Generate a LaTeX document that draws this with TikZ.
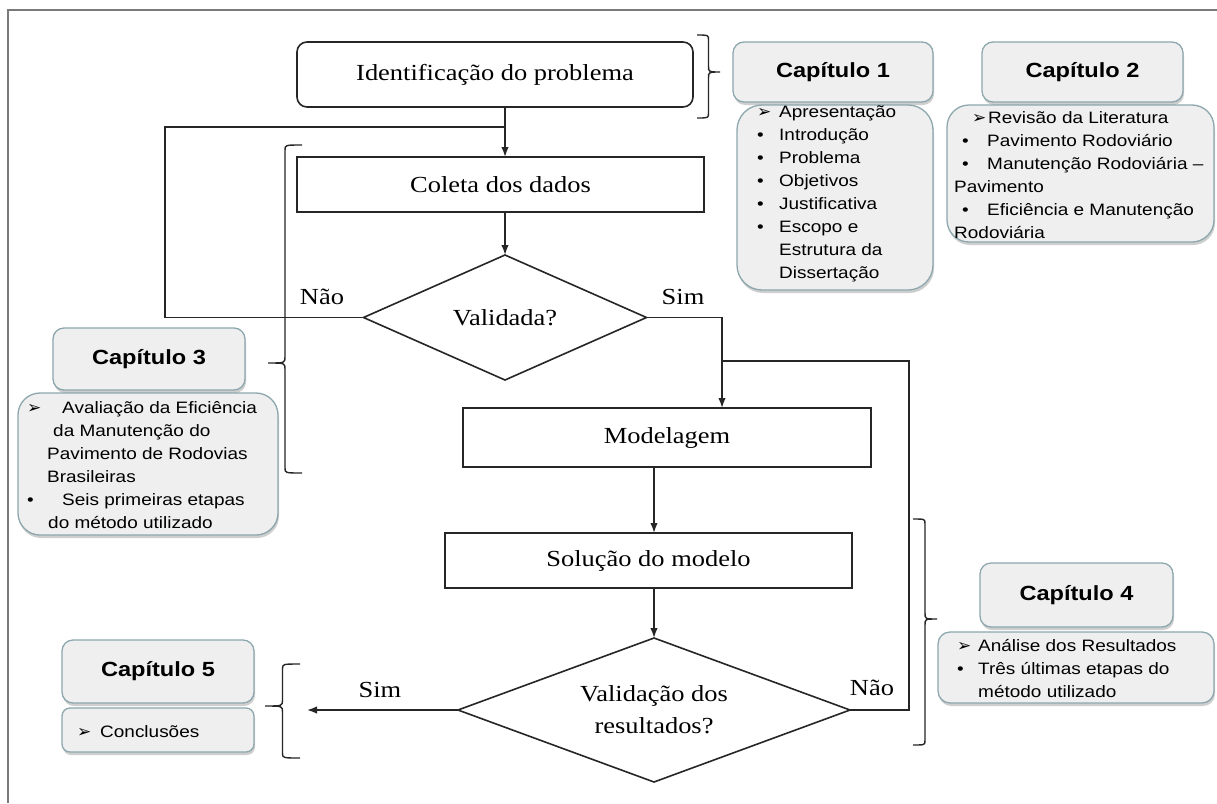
\documentclass[tikz,border=0pt]{standalone}
\usepackage{fontspec}
\setmainfont{Liberation Serif}[FakeStretch=1.15]
\newfontfamily\chapfont{Liberation Sans}[FakeStretch=1.15]
\newfontfamily\symfont{DejaVu Sans}
\usetikzlibrary{shapes.geometric,arrows.meta,shadows}

\definecolor{flowline}{HTML}{262626}
\definecolor{chapedge}{HTML}{8CA7AD}
\definecolor{chapfill}{HTML}{EFEFEF}
\definecolor{framegray}{HTML}{7A7A7A}

\newcommand{\flowfont}{\fontsize{23}{32}\selectfont}
\newcommand{\chaptitlefont}{\chapfont\bfseries\fontsize{20.5}{24}\selectfont}
\newcommand{\chaplistfont}{\chapfont\fontsize{16.5}{23}\selectfont}
\newcommand{\arrowmark}{{\symfont\fontsize{17}{17}\selectfont ➢}}
\newcommand{\dotmark}{•}
% list entry: #1 offset of the mark, #2 offset of the text, #3 the mark
\newcommand{\entry}[3]{\makebox[#2pt][l]{\hspace*{#1pt}#3}}
% curly brace: #1 x of the hooks, #2 side (+1 right, -1 left), #3 top y, #4 tip y, #5 bottom y, #6 depth
\newcommand{\curlybrace}[6]{%
  \draw[bracestroke] (#1,#3) .. controls ({#1+(#2)*(#6)},#3) .. ({#1+(#2)*(#6)},{#3+5})
    -- ({#1+(#2)*(#6)},{#4-6}) .. controls ({#1+(#2)*(#6)},#4) .. ({#1+2*(#2)*(#6)},#4)
    .. controls ({#1+(#2)*(#6)},#4) .. ({#1+(#2)*(#6)},{#4+6})
    -- ({#1+(#2)*(#6)},{#5-5}) .. controls ({#1+(#2)*(#6)},#5) .. (#1,#5);}

\tikzset{
  process/.style={draw=flowline, line width=1.6pt, fill=white, inner sep=0pt,
    outer sep=0pt, font=\flowfont, align=center},
  decision/.style={process, diamond},
  link/.style={draw=flowline, line width=1.6pt},
  flowarrow/.style={link, -{Latex[length=10pt,width=7.5pt]}},
  answer/.style={font=\flowfont, inner sep=0pt},
  chapshadow/.style={drop shadow={shadow xshift=1pt, shadow yshift=-3pt,
    opacity=0.35, fill=black!55}},
  chaphead/.style={draw=chapedge, line width=1.3pt, fill=chapfill,
    rounded corners=11pt, chapshadow, font=\chaptitlefont, inner sep=0pt},
  chapbody/.style={draw=chapedge, line width=1.3pt, fill=chapfill,
    rounded corners=#1, chapshadow, inner sep=0pt},
  chaplist/.style={anchor=west, align=left, inner sep=0pt, font=\chaplistfont},
  bracestroke/.style={draw=flowline, line width=1.4pt},
  framerule/.style={draw=framegray, line width=1.3pt},
}

\begin{document}
\begin{tikzpicture}[x=1pt,y=-1pt]
\fill[white] (0,0) rectangle (1217,803);
\useasboundingbox (0,0) rectangle (1217,803);
\draw[framerule] (8,803) -- (8,10) -- (1217,10);

% flowchart
\node[process, rounded corners=10pt, minimum width=396pt, minimum height=65pt] (ident) at (495,74.5) {Identificação do problema};
\node[process, minimum width=407pt, minimum height=55pt] (coleta) at (500.5,184.5) {Coleta dos dados};
\node[decision, shape aspect=2.26, minimum width=283pt, minimum height=125pt] (valid) at (505,317.5) {Validada?};
\node[process, minimum width=408pt, minimum height=59pt] (model) at (667,437.5) {Modelagem};
\node[process, minimum width=407pt, minimum height=55pt] (solucao) at (648.5,560.5) {Solução do modelo};
\node[decision, shape aspect=2.72, minimum width=392pt, minimum height=144pt] (result) at (654,710) {Validação dos\\resultados?};

\coordinate (loopTop) at (165,127);
\coordinate (merge) at (722,361);
\coordinate (loopRight) at (909,361);
\coordinate (simEnd) at (307,710);

\draw[flowarrow] (ident.south -| valid.north) -- (coleta.north -| valid.north);
\draw[link] (valid.west) -| (loopTop) -- (loopTop -| valid.north);
\draw[flowarrow] (coleta.south -| valid.north) -- (valid.north);
\draw[flowarrow] (valid.east) -| (merge) -- (merge |- model.north);
\draw[flowarrow] (model.south -| result.north) -- (solucao.north -| result.north);
\draw[flowarrow] (solucao.south -| result.north) -- (result.north);
\draw[link] (result.east) -| (loopRight) -- (merge);
\draw[flowarrow] (result.west) -- (simEnd);

\node[answer] (naoA) at (322,297) {Não};
\node[answer] (simA) at (683,297) {Sim};
\node[answer] (simB) at (380,690) {Sim};
\node[answer] (naoB) at (872,688) {Não};

% braces
\curlybrace{697}{1}{35}{72}{118}{11.5}
\curlybrace{302}{-1}{145}{363}{473}{17}
\curlybrace{913}{1}{519}{619}{745}{12}
\curlybrace{300}{-1}{664}{706}{758}{17.5}

% chapters
\node[chaphead, minimum width=200pt, minimum height=60pt] (cap1) at (833,72) {Capítulo 1};
\node[chapbody=25pt, minimum width=196pt, minimum height=185pt] (cap1body) at (835,197.5) {};
\node[chaplist] (cap1list) at (757,194) {%
  \entry{0}{22}{\arrowmark}Apresentação\\
  \entry{0}{22}{\dotmark}Introdução\\
  \entry{0}{22}{\dotmark}Problema\\
  \entry{0}{22}{\dotmark}Objetivos\\
  \entry{0}{22}{\dotmark}Justificativa\\
  \entry{0}{22}{\dotmark}Escopo e\\
  \hspace*{22pt}Estrutura da\\
  \hspace*{22pt}Dissertação};

\node[chaphead, minimum width=201pt, minimum height=60pt] (cap2) at (1082.5,72) {Capítulo 2};
\node[chapbody=22pt, minimum width=267pt, minimum height=137pt] (cap2body) at (1080.5,173.5) {};
\node[chaplist] (cap2list) at (954,175) {%
  \entry{18}{34}{\arrowmark}Revisão da Literatura\\
  \entry{8}{33}{\dotmark}Pavimento Rodoviário\\
  \entry{8}{33}{\dotmark}Manutenção Rodoviária –\\
  Pavimento\\
  \entry{8}{33}{\dotmark}Eficiência e Manutenção\\
  Rodoviária};

\node[chaphead, minimum width=192pt, minimum height=62pt] (cap3) at (149,359) {Capítulo 3};
\node[chapbody=22pt, minimum width=260pt, minimum height=142pt] (cap3body) at (148,464) {};
\node[chaplist] (cap3list) at (27,465.5) {%
  \entry{0}{35}{\arrowmark}Avaliação da Eficiência\\
  \hspace*{26pt}da Manutenção do\\
  \hspace*{20pt}Pavimento de Rodovias\\
  \hspace*{20pt}Brasileiras\\
  \entry{0}{35}{\dotmark}Seis primeiras etapas\\
  \hspace*{21pt}do método utilizado};

\node[chaphead, minimum width=193pt, minimum height=64pt] (cap4) at (1076.5,595) {Capítulo 4};
\node[chapbody=12pt, minimum width=276pt, minimum height=71pt] (cap4body) at (1076,667.5) {};
\node[chaplist] (cap4list) at (957,668.5) {%
  \entry{0}{21}{\arrowmark}Análise dos Resultados\\
  \entry{0}{21}{\dotmark}Três últimas etapas do\\
  \hspace*{21pt}método utilizado};

\node[chaphead, minimum width=192pt, minimum height=63pt] (cap5) at (158,671.5) {Capítulo 5};
\node[chapbody=8pt, minimum width=192pt, minimum height=44pt] (cap5body) at (158,730) {};
\node[chaplist] (cap5list) at (77,732) {\entry{0}{23}{\arrowmark}Conclusões};
\end{tikzpicture}
\end{document}
